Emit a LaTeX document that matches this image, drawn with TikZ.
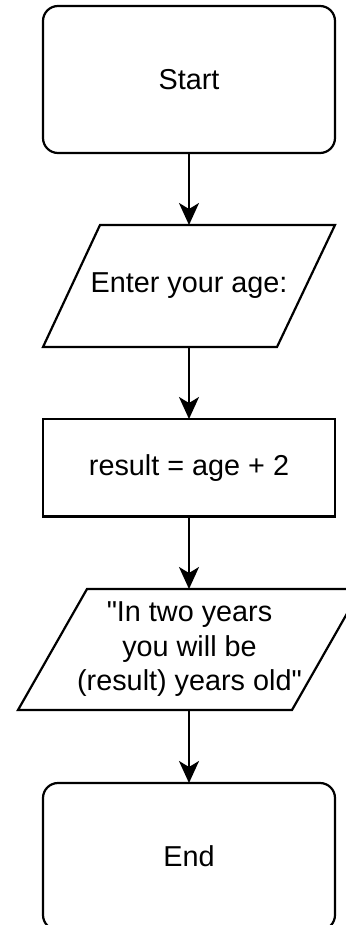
\documentclass[tikz,border=0pt]{standalone}
\usepackage{fontspec}
\setmainfont{Liberation Sans}[Ligatures=TeXOff]
\usetikzlibrary{arrows.meta}
\begin{document}
\begin{tikzpicture}[x=1pt,y=-1pt,
  line width=2.2pt,
  txt/.style={font=\fontsize{28.8}{34.5}\selectfont, align=center, inner sep=0pt, outer sep=0pt},
  term/.style={txt, draw, rounded corners=15pt, minimum width=292pt, minimum height=147pt},
  procbox/.style={txt, draw, minimum width=292pt, minimum height=97.5pt},
  flow/.style={-{Stealth[length=22pt,width=20pt,inset=6pt]}, line width=2.2pt}]
\useasboundingbox (0,0) rectangle (345,925);
% Start
\node[term] (start) at (189,79.5) {Start};
% input parallelogram
\draw (100,225) -- (335,225) -- (277,347) -- (43,347) -- cycle;
\node[txt, minimum height=122pt] (in) at (189,286) {Enter your age:};
% process
\node[procbox] (proc) at (189,467.75) {result = age + 2};
% output parallelogram
\draw (87,589) -- (361,589) -- (292,710) -- (18,710) -- cycle;
\node[txt, minimum height=121pt] (out) at (189.5,649.5) {"In two years\\ you will be\\ (result) years old"};
% End
\node[term] (end) at (189,856.5) {End};
% connectors
\draw[flow] (start.south) -- (in.north);
\draw[flow] (in.south) -- (proc.north);
\draw[flow] (proc.south) -- (out.north -| proc.south);
\draw[flow] (out.south -| proc.south) -- (end.north);
\end{tikzpicture}
\end{document}
